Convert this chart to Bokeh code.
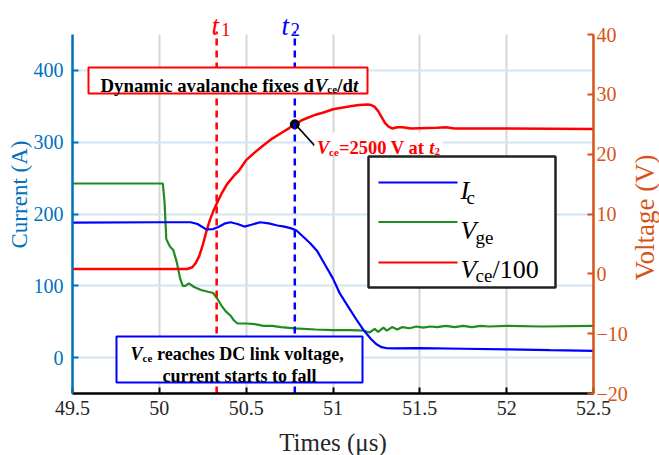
import math
from bokeh.plotting import figure
from bokeh.models import (Range1d, LinearAxis, FixedTicker, BoxAnnotation,
                          Label, Arrow)
from bokeh.embed import file_html
from bokeh.resources import INLINE

# ---------------- data ----------------
t_ic = [49.5, 50.0, 50.18, 50.22, 50.27, 50.31, 50.34, 50.38, 50.41, 50.45, 50.49,
        50.53, 50.58, 50.63, 50.68, 50.72, 50.76, 50.79, 50.83, 50.87, 50.91, 50.95,
        51.0, 51.04, 51.09, 51.14, 51.18, 51.22, 51.25, 51.28, 51.31, 51.35, 51.5,
        51.75, 52.0, 52.25, 52.5]
ic = [188, 188.5, 188.5, 186, 178.5, 179, 182, 187, 188.5, 186, 182.5,
      185, 188.5, 187, 184, 182.5, 180, 177, 168, 159, 148, 131,
      110, 89, 70, 51, 37, 25.5, 18.5, 14.5, 13, 12.8, 13.1,
      12.3, 11.5, 10.4, 9.4]

t_vge = [49.5, 50.02, 50.03, 50.04, 50.06, 50.08, 50.10, 50.12, 50.135, 50.15, 50.17,
         50.2, 50.24, 50.28, 50.31, 50.33, 50.36, 50.38, 50.41, 50.43, 50.45, 50.5,
         50.55, 50.6, 50.65, 50.7, 50.78, 50.9, 51.0, 51.1, 51.18, 51.21, 51.24,
         51.26, 51.29, 51.31, 51.34, 51.37, 51.40, 51.44, 51.48, 51.52, 51.56, 51.6,
         51.65, 51.7, 51.75, 51.8, 51.85, 51.9, 52.0, 52.2, 52.5]
vge = [15.1, 15.1, 12.0, 5.8, 4.6, 4.0, 2.0, -0.8, -2.0, -2.0, -1.6,
       -2.2, -2.7, -3.0, -3.2, -4.0, -5.4, -6.2, -7.0, -7.8, -8.3, -8.3,
       -8.4, -8.7, -8.7, -8.9, -9.1, -9.3, -9.4, -9.4, -9.5, -9.8, -9.2,
       -9.7, -9.0, -9.5, -8.9, -9.3, -8.9, -9.1, -8.8, -9.0, -8.8, -8.9,
       -8.7, -8.9, -8.7, -8.9, -8.7, -8.8, -8.7, -8.8, -8.7]

t_vce = [49.5, 50.16, 50.19, 50.21, 50.23, 50.25, 50.27, 50.29, 50.31, 50.33, 50.36,
         50.39, 50.43, 50.46, 50.5, 50.55, 50.6, 50.65, 50.7, 50.75, 50.78, 50.83,
         50.9, 50.95, 51.0, 51.1, 51.15, 51.2, 51.22, 51.24, 51.26, 51.28, 51.30,
         51.32, 51.34, 51.37, 51.40, 51.45, 51.6, 51.65, 51.7, 52.0, 52.5]
vce_100 = [0.8, 0.8, 1.1, 1.8, 3.0, 4.8, 7.0, 8.9, 10.4, 11.7, 13.5,
           15.0, 16.4, 17.3, 19.0, 20.3, 21.5, 22.6, 23.5, 24.4, 25.0, 25.8,
           26.6, 27.0, 27.5, 28.0, 28.2, 28.3, 28.2, 27.9, 27.2, 26.2, 25.2,
           24.6, 24.3, 24.5, 24.5, 24.3, 24.4, 24.5, 24.3, 24.3, 24.2]

t1 = 50.33
t2 = 50.78
vce_at_t2 = 2500  # V

x_ticks = [49.5, 50, 50.5, 51, 51.5, 52, 52.5]
x_tick_labels = ["49.5", "50", "50.5", "51", "51.5", "52", "52.5"]
left_ticks = [0, 100, 200, 300, 400]
right_ticks = [-20, -10, 0, 10, 20, 30, 40]
x_limits = (49.5, 52.5)
left_limits = (-50, 450)
right_limits = (-20, 40)

# ---------------- styling / layout ----------------
FONT = "Liberation Serif"
BLUE_AX = "#0072BD"
ORANGE_AX = "#D95319"
TXT = "#262626"
C_IC = "#0000FF"
C_VGE = "#1E8C1E"
C_VCE = "#FF0000"

W, H = 659, 455
FL, FR, FT, FB = 72, 593, 34, 393   # axes box in pixels (the frame is the whole page)
XMIN, XMAX = x_limits
YMIN, YMAX = left_limits
RMIN, RMAX = right_limits


def X(px):
    return XMIN + (px - FL) / (FR - FL) * (XMAX - XMIN)


def Y(py):
    return YMAX - (py - FT) / (FB - FT) * (YMAX - YMIN)


def YR(py):
    return RMAX - (py - FT) / (FB - FT) * (RMAX - RMIN)


p = figure(width=W, height=H, x_range=Range1d(X(0), X(W)),
           y_range=Range1d(Y(H), Y(0)),
           output_backend="svg", toolbar_location=None,
           min_border_left=0, min_border_right=0,
           min_border_top=0, min_border_bottom=0)
p.outline_line_color = None
p.background_fill_color = "white"
p.border_fill_color = "white"
p.extra_y_ranges = {"volt": Range1d(YR(H), YR(0))}

# grids
p.xgrid.ticker = FixedTicker(ticks=x_ticks)
p.xgrid.grid_line_color = "#d6d6d6"
p.xgrid.grid_line_width = 2
p.ygrid.ticker = FixedTicker(ticks=left_ticks)
p.ygrid.grid_line_color = "#d4e5f2"
p.ygrid.grid_line_width = 2
# blank the grid outside the axes box
for kw in [dict(bottom=YMAX), dict(top=YMIN), dict(right=XMIN), dict(left=XMAX)]:
    p.add_layout(BoxAnnotation(fill_color="white", fill_alpha=1.0,
                               line_color=None, level="underlay", **kw))


def style_axis(ax, col, lab_col, size="20px", standoff=6):
    ax.axis_line_color = col
    ax.axis_line_width = 2.5
    ax.major_tick_line_color = col
    ax.major_tick_line_width = 2
    ax.major_tick_in = 6
    ax.major_tick_out = 0
    ax.minor_tick_line_color = None
    ax.major_label_text_font = FONT
    ax.major_label_text_font_size = size
    ax.major_label_text_color = lab_col
    ax.major_label_standoff = standoff


# bottom axis
xa = p.xaxis[0]
xa.ticker = FixedTicker(ticks=x_ticks)
xa.major_label_overrides = {t: s for t, s in zip(x_ticks, x_tick_labels)}
xa.bounds = x_limits
xa.fixed_location = YMIN
style_axis(xa, "black", TXT, standoff=7)

# left axis
ya = p.yaxis[0]
ya.ticker = FixedTicker(ticks=left_ticks)
ya.bounds = left_limits
ya.fixed_location = XMIN
style_axis(ya, BLUE_AX, BLUE_AX, standoff=9)

# right axis
ra = LinearAxis(y_range_name="volt", ticker=FixedTicker(ticks=right_ticks),
                bounds=right_limits, fixed_location=XMAX)
style_axis(ra, ORANGE_AX, ORANGE_AX, standoff=3)
p.add_layout(ra, "right")

# curves
p.line(t_vge, vge, y_range_name="volt", line_color=C_VGE, line_width=2.2)
p.line(t_vce, vce_100, y_range_name="volt", line_color=C_VCE, line_width=2.5)
p.line(t_ic, ic, line_color=C_IC, line_width=2.2)

# time markers (dashed), slightly above the axes box like the original
for tm, col in [(t1, "red"), (t2, "blue")]:
    p.add_layout(Arrow(x_start=tm, y_start=YMIN, x_end=tm, y_end=Y(31),
                       end=None, line_color=col, line_dash="7 5", line_width=2.5,
                       level="glyph"))


def lab(txt, px, py, size, style="normal", color="black", align="left",
        angle=0.0, baseline="alphabetic"):
    p.add_layout(Label(x=X(px), y=Y(py), text=txt, text_font=FONT,
                       text_font_size=f"{size}px", text_font_style=style,
                       text_color=color, text_align=align, angle=angle,
                       text_baseline=baseline))


def box(l, r, t, b, col, lw=2):
    p.add_layout(BoxAnnotation(left=X(l), right=X(r), top=Y(t), bottom=Y(b),
                               fill_color="white", fill_alpha=1.0,
                               line_color=col, line_alpha=1.0, line_width=lw))


# axis titles
lab("Times (μs)", 332.5, 441.5, 25, color=TXT, align="center")
lab("Current (A)", 19, 194, 23, color=BLUE_AX, align="center",
    angle=math.pi / 2, baseline="middle")
lab("Voltage (V)", 644, 217, 27, color=ORANGE_AX, align="center",
    angle=math.pi / 2, baseline="middle")

# t1 / t2 labels
lab("t", 211, 25, 27, "italic", "red")
lab("1", 220.5, 28.5, 19, "normal", "red")
lab("t", 281, 25, 27, "italic", "blue")
lab("2", 290, 28.5, 19, "normal", "blue")

# red annotation box
box(88, 367, 67, 93, "red")
lab("Dynamic avalanche fixes d", 100, 85, 18.8, "bold")
lab("V", 314.3, 85, 18.8, "bold italic")
lab("ce", 326.8, 88, 11, "bold")
lab("/d", 336.8, 85, 18.8, "bold")
lab("t", 352.5, 85, 18.8, "bold italic")

# point at t2 and its callout
p.scatter([t2], [vce_at_t2 / 100], y_range_name="volt", size=9,
          fill_color="black", line_color="black")
p.add_layout(Arrow(x_start=X(295), y_start=Y(124), x_end=X(314), y_end=Y(145),
                   end=None, line_color="black", line_width=1.8))
box(314, 442, 132, 152, None)
lab("V", 316.5, 147, 18.5, "bold italic", C_VCE)
lab("ce", 328.6, 151, 11, "bold", C_VCE)
lab("=2500 V at", 338.5, 147, 18.5, "bold", C_VCE)
lab("t", 428.7, 147, 18.5, "bold italic", C_VCE)
lab("2", 434, 151, 11, "bold", C_VCE)

# blue annotation box
box(116, 362, 336, 382, "blue")
lab("V", 130, 353.5, 18, "bold italic")
lab("ce", 142, 357.5, 11, "bold")
lab("reaches DC link voltage,", 156.5, 353.5, 18, "bold")
lab("current starts to fall", 239, 375.5, 18, "bold", "black", "center")

# legend (drawn by hand to allow subscripts)
box(368, 555, 156, 287, "#222222", 2.5)
for yy, col in [(182, C_IC), (221.5, C_VGE), (262, C_VCE)]:
    p.add_layout(Arrow(x_start=X(378), y_start=Y(yy), x_end=X(457), y_end=Y(yy),
                       end=None, line_color=col, line_width=1.8))
lab("I", 460, 189.5, 26, "italic")
lab("c", 466, 196.5, 19)
lab("V", 460, 230, 26, "italic")
lab("ge", 475, 236.5, 19)
lab("V", 460, 268.5, 26, "italic")
lab("ce", 475, 275, 19)
lab("/100", 492, 268.5, 26)

open("out.html", "w").write(file_html(p, INLINE))
